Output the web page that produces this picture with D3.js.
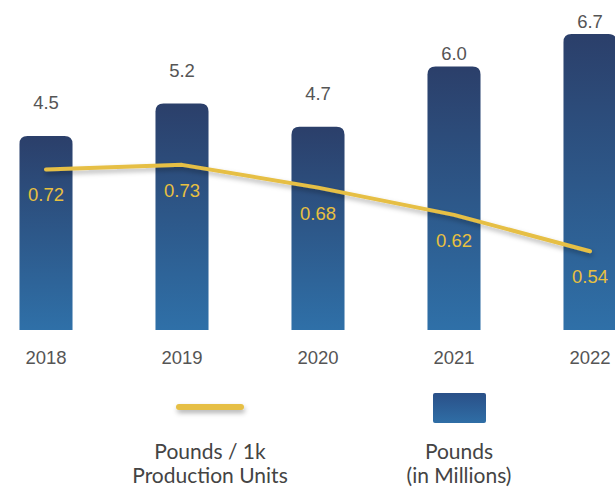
<!DOCTYPE html>
<html>
<head>
<meta charset="utf-8">
<script src="https://cdn.jsdelivr.net/npm/d3@7"></script>
<style>
  body { margin: 0; background: #fff; }
  svg { display: block; }
</style>
</head>
<body>
<div id="chart"></div>
<script>
const years = ["2018", "2019", "2020", "2021", "2022"];
const pounds = [4.5, 5.2, 4.7, 6.0, 6.7];          // millions
const perUnit = [0.72, 0.73, 0.68, 0.62, 0.54];    // pounds / 1k production units
const legendLabels = [["Pounds / 1k", "Production Units"], ["Pounds", "(in Millions)"]];

const width = 615, height = 489;
const baseY = 330;

const svg = d3.select("#chart").append("svg")
    .attr("width", width)
    .attr("height", height);

const defs = svg.append("defs");
const grad = defs.append("linearGradient")
    .attr("id", "barGrad")
    .attr("x1", 0).attr("y1", 0).attr("x2", 0).attr("y2", 1);
grad.append("stop").attr("offset", "0%").attr("stop-color", "#2b3f6a");
grad.append("stop").attr("offset", "100%").attr("stop-color", "#2f70a8");

const legGrad = defs.append("linearGradient")
    .attr("id", "legGrad")
    .attr("x1", 0).attr("y1", 0).attr("x2", 0).attr("y2", 1);
legGrad.append("stop").attr("offset", "0%").attr("stop-color", "#2a5088");
legGrad.append("stop").attr("offset", "100%").attr("stop-color", "#2f6ea6");

const shadow = defs.append("filter")
    .attr("id", "lineShadow")
    .attr("filterUnits", "userSpaceOnUse")
    .attr("x", 0).attr("y", 0).attr("width", width).attr("height", height);
shadow.append("feDropShadow")
    .attr("dx", 1).attr("dy", 3).attr("stdDeviation", 2.5)
    .attr("flood-color", "#000").attr("flood-opacity", 0.3);

// bar centres run from about 45 to 591
const x = d3.scaleBand()
    .domain(years)
    .range([-22, 658])
    .paddingInner(0.61)
    .paddingOuter(0.305);

const y = d3.scaleLinear().domain([0, 7]).range([345, 20]);
const yLine = d3.scaleLinear().domain([0.4, 0.8]).range([315, 133]);

const bw = x.bandwidth();
const r = 8;

function barPath(x0, top, w) {
    return `M${x0},${baseY} V${top + r} Q${x0},${top} ${x0 + r},${top} H${x0 + w - r} Q${x0 + w},${top} ${x0 + w},${top + r} V${baseY} Z`;
}

svg.selectAll(".bar")
    .data(pounds)
    .enter().append("path")
    .attr("class", "bar")
    .attr("d", (d, i) => barPath(x(years[i]), y(d), bw))
    .attr("fill", "url(#barGrad)");

// bar value labels
svg.selectAll(".val")
    .data(pounds)
    .enter().append("text")
    .attr("class", "val")
    .attr("x", (d, i) => x(years[i]) + bw / 2)
    .attr("y", d => y(d) - (d < 5.5 ? 27 : 6))
    .attr("text-anchor", "middle")
    .attr("font-family", "Liberation Sans, Arial, sans-serif")
    .attr("font-size", 18.5)
    .attr("fill", "#555")
    .text(d => d.toFixed(1));

// x axis labels
const xAxis = d3.axisBottom(x).tickSize(0).tickPadding(0);
const gx = svg.append("g")
    .attr("transform", `translate(0, ${baseY + 34})`)
    .call(xAxis);
gx.select(".domain").remove();
gx.selectAll("text")
    .attr("font-family", "Liberation Sans, Arial, sans-serif")
    .attr("font-size", 18.5)
    .attr("fill", "#555")
    .attr("dy", 0);

// line
const line = d3.line()
    .x((d, i) => x(years[i]) + bw / 2)
    .y(d => yLine(d));

svg.append("path")
    .datum(perUnit)
    .attr("d", line)
    .attr("fill", "none")
    .attr("stroke", "#e6bf45")
    .attr("stroke-width", 4)
    .attr("stroke-linecap", "round")
    .attr("stroke-linejoin", "round")
    .attr("filter", "url(#lineShadow)");

svg.selectAll(".lineval")
    .data(perUnit)
    .enter().append("text")
    .attr("class", "lineval")
    .attr("x", (d, i) => x(years[i]) + bw / 2)
    .attr("y", d => yLine(d) + 32)
    .attr("text-anchor", "middle")
    .attr("font-family", "Liberation Sans, Arial, sans-serif")
    .attr("font-size", 18.5)
    .attr("fill", "#e8c040")
    .text(d => d.toFixed(2));

// legend
const legend = svg.append("g");
legend.append("rect")
    .attr("x", 176).attr("y", 404)
    .attr("width", 68).attr("height", 6)
    .attr("rx", 3)
    .attr("fill", "#e6bf45")
    .attr("filter", "url(#lineShadow)");
legend.append("rect")
    .attr("x", 433).attr("y", 393)
    .attr("width", 53).attr("height", 30)
    .attr("rx", 2)
    .attr("fill", "url(#legGrad)");

const legendX = [210, 459];
legendLabels.forEach((lines, i) => {
    const t = legend.append("text")
        .attr("text-anchor", "middle")
        .attr("font-family", "Lato, 'Open Sans', sans-serif")
        .attr("font-size", 21)
        .attr("fill", "#444");
    lines.forEach((s, j) => {
        t.append("tspan")
            .attr("x", legendX[i])
            .attr("y", 459 + j * 24)
            .text(s);
    });
});
</script>
</body>
</html>
